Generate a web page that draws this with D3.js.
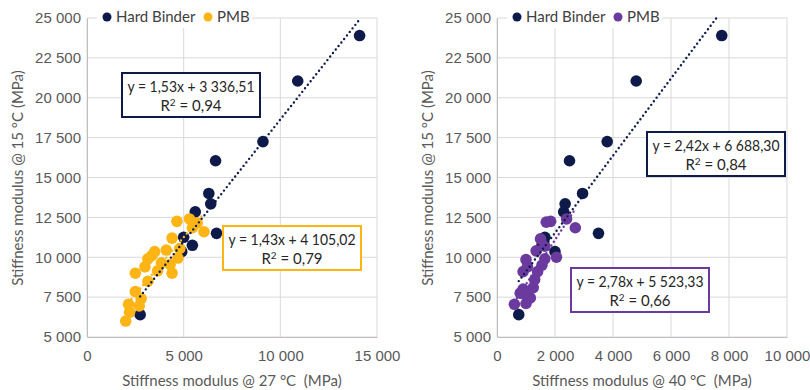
<!DOCTYPE html>
<html lang="en">
<head>
<meta charset="UTF-8">
<title>Stiffness modulus</title>
<script src="https://cdn.jsdelivr.net/npm/d3@7"></script>
<style>
  body { margin: 0; background: #fff; }
  svg { font-family: Lato, "Open Sans", sans-serif; }
  .grid line { stroke: #d9d9d9; stroke-width: 1; }
  .tick text { fill: #595959; font-size: 15px; }
  .title { fill: #595959; font-size: 15px; }
  .legend text { fill: #404040; font-size: 15px; }
  .eq text { fill: #262626; font-size: 15px; }
</style>
</head>
<body>
<script>
// Hard binder, stiffness @ 15 °C vs @ 27 °C
var hbY27 = [23900, 21050, 17250, 16050, 14000, 13350, 12850, 11500, 11250, 10750, 10350, 6400];
var hbX27 = [14100, 10900, 9100, 6650, 6300, 6400, 5600, 6700, 5000, 5450, 4900, 2750];
// PMB, stiffness @ 15 °C vs @ 27 °C
var pmbX27 = [2000, 2200, 2150, 2700, 2500, 2800, 2500, 3000, 3150, 3150, 3350, 3500, 3650, 3850,
              4100, 4300, 4400, 4400, 4700, 4800, 4650, 5300, 5450, 5700, 6050];
var pmbY27 = [6000, 6550, 7050, 6950, 7850, 7400, 9000, 9400, 8500, 9900, 10100, 10350, 9150, 9650,
              10450, 9550, 9000, 11200, 9950, 10550, 12250, 12400, 11850, 12150, 11600];

// Hard binder, stiffness @ 15 °C vs @ 40 °C
var hbY40 = [23900, 21050, 17250, 16050, 14000, 13350, 12850, 11500, 11250, 10750, 10350, 6400];
var hbX40 = [7750, 4800, 3800, 2500, 2950, 2350, 2300, 3500, 1650, 1550, 2000, 750];
// PMB, stiffness @ 15 °C vs @ 40 °C
var pmbX40 = [600, 800, 950, 1000, 1150, 900, 1250, 1300, 1400, 1550, 900, 1000, 1050, 1350,
              1650, 1500, 1650, 2050, 1700, 1850, 2400, 2700];
var pmbY40 = [7050, 7750, 7700, 7100, 7450, 8000, 8100, 8600, 9100, 9500, 9100, 9850, 9400, 10400,
              9900, 11150, 10700, 10000, 12200, 12250, 12400, 11850];

// linear trendlines (slope, intercept, R²)
var hbFit27 = [1.53, 3336.51, 0.94];
var pmbFit27 = [1.43, 4105.02, 0.79];
var hbFit40 = [2.42, 6688.30, 0.84];
var pmbFit40 = [2.78, 5523.33, 0.66];

var yTicks = [5000, 7500, 10000, 12500, 15000, 17500, 20000, 22500, 25000];
var xTicks27 = [0, 5000, 10000, 15000];
var xTicks40 = [0, 2000, 4000, 6000, 8000, 10000];

var navy = "#0e1a4a", gold = "#fdb515", purple = "#6b3a9e";

var loc = d3.formatLocale({ decimal: ",", thousands: "\u00a0", grouping: [3], currency: ["", ""] });
var fmtInt = loc.format(",d");
var fmtDec = loc.format(",.2f");

var svg = d3.select("body").append("svg").attr("width", 810).attr("height", 390);

function panel(opt) {
  var x = d3.scaleLinear().domain([0, opt.xMax]).range([opt.left, opt.left + 290]);
  var y = d3.scaleLinear().domain([5000, 25000]).range([337, 18]);
  var g = svg.append("g");

  // gridlines
  var grid = g.append("g").attr("class", "grid");
  grid.selectAll(".h").data(yTicks).enter().append("line")
    .attr("x1", x.range()[0]).attr("x2", x.range()[1])
    .attr("y1", function (d) { return y(d); }).attr("y2", function (d) { return y(d); });
  grid.selectAll(".v").data(opt.xTicks).enter().append("line")
    .attr("y1", y.range()[0]).attr("y2", y.range()[1])
    .attr("x1", function (d) { return x(d); }).attr("x2", function (d) { return x(d); });

  // axes
  g.append("g").attr("transform", "translate(0,337)")
    .call(d3.axisBottom(x).tickValues(opt.xTicks).tickFormat(fmtInt).tickSize(0).tickPadding(13))
    .call(function (a) { a.select(".domain").attr("stroke", "#bfbfbf"); });
  g.append("g").attr("transform", "translate(" + opt.left + ",0)")
    .call(d3.axisLeft(y).tickValues(yTicks).tickFormat(fmtInt).tickSize(0).tickPadding(6))
    .call(function (a) { a.select(".domain").attr("stroke", "#bfbfbf"); });
  g.selectAll(".tick text").attr("font-family", null).attr("font-size", null);

  // axis titles
  g.append("text").attr("class", "title")
    .attr("x", opt.left + 145).attr("y", 386).attr("text-anchor", "middle")
    .text(opt.xTitle);
  g.append("text").attr("class", "title")
    .attr("transform", "translate(" + (opt.left - 64) + ",178) rotate(-90)")
    .attr("text-anchor", "middle")
    .text("Stiffness modulus @ 15 °C (MPa)");

  // points
  g.append("g").selectAll("circle").data(opt.hbX).enter().append("circle")
    .attr("cx", function (d) { return x(d); })
    .attr("cy", function (d, i) { return y(opt.hbY[i]); })
    .attr("r", 5.8).attr("fill", navy);
  g.append("g").selectAll("circle").data(opt.pmbX).enter().append("circle")
    .attr("cx", function (d) { return x(d); })
    .attr("cy", function (d, i) { return y(opt.pmbY[i]); })
    .attr("r", 5.8).attr("fill", opt.pmbColor);

  // trendlines, clipped at the plot top
  function trend(fit, xs, color) {
    var x0 = d3.min(xs), x1 = d3.max(xs);
    var yEnd = fit[0] * x1 + fit[1];
    if (yEnd > 25000) { x1 = (25000 - fit[1]) / fit[0]; yEnd = 25000; }
    g.append("line")
      .attr("x1", x(x0)).attr("y1", y(fit[0] * x0 + fit[1]))
      .attr("x2", x(x1)).attr("y2", y(yEnd))
      .attr("stroke", color).attr("stroke-width", 2.4)
      .attr("stroke-linecap", "round").attr("stroke-dasharray", "0,4.5");
  }
  trend(opt.hbFit, opt.hbX, navy);
  trend(opt.pmbFit, opt.pmbX, opt.pmbColor);

  // equation boxes
  function eqBox(fit, bx, by, color) {
    var e = g.append("g").attr("class", "eq");
    e.append("rect").attr("x", bx).attr("y", by).attr("width", 138).attr("height", 44)
      .attr("fill", "#fff").attr("stroke", color).attr("stroke-width", 2);
    e.append("text").attr("x", bx + 69).attr("y", by + 19).attr("text-anchor", "middle")
      .attr("textLength", 127).attr("lengthAdjust", "spacingAndGlyphs")
      .text("y = " + fmtDec(fit[0]) + "x + " + fmtDec(fit[1]));
    var t = e.append("text").attr("x", bx + 69).attr("y", by + 38).attr("text-anchor", "middle");
    t.append("tspan").text("R");
    t.append("tspan").attr("dy", -5).attr("font-size", "10px").text("2");
    t.append("tspan").attr("dy", 5).text(" = " + fmtDec(fit[2]));
  }
  eqBox(opt.hbFit, opt.hbBox[0], opt.hbBox[1], navy);
  eqBox(opt.pmbFit, opt.pmbBox[0], opt.pmbBox[1], opt.pmbColor);

  // legend over the top gridline
  var lg = g.append("g").attr("class", "legend");
  lg.append("rect").attr("x", opt.left + 10).attr("y", 6).attr("width", 155).attr("height", 22).attr("fill", "#fff");
  lg.append("circle").attr("cx", opt.left + 20).attr("cy", 17).attr("r", 4.5).attr("fill", navy);
  lg.append("text").attr("x", opt.left + 29).attr("y", 22).text("Hard Binder");
  lg.append("circle").attr("cx", opt.left + 121).attr("cy", 17).attr("r", 4.5).attr("fill", opt.pmbColor);
  lg.append("text").attr("x", opt.left + 130).attr("y", 22).text("PMB");
}

panel({
  left: 87, xMax: 15000, xTicks: xTicks27, xTitle: "Stiffness modulus @ 27 °C\u00a0 (MPa)",
  hbX: hbX27, hbY: hbY27, pmbX: pmbX27, pmbY: pmbY27, pmbColor: gold,
  hbFit: hbFit27, pmbFit: pmbFit27, hbBox: [122, 73], pmbBox: [223, 226]
});
panel({
  left: 497, xMax: 10000, xTicks: xTicks40, xTitle: "Stiffness modulus @ 40 °C\u00a0 (MPa)",
  hbX: hbX40, hbY: hbY40, pmbX: pmbX40, pmbY: pmbY40, pmbColor: purple,
  hbFit: hbFit40, pmbFit: pmbFit40, hbBox: [647, 132], pmbBox: [571, 268]
});
</script>
</body>
</html>
